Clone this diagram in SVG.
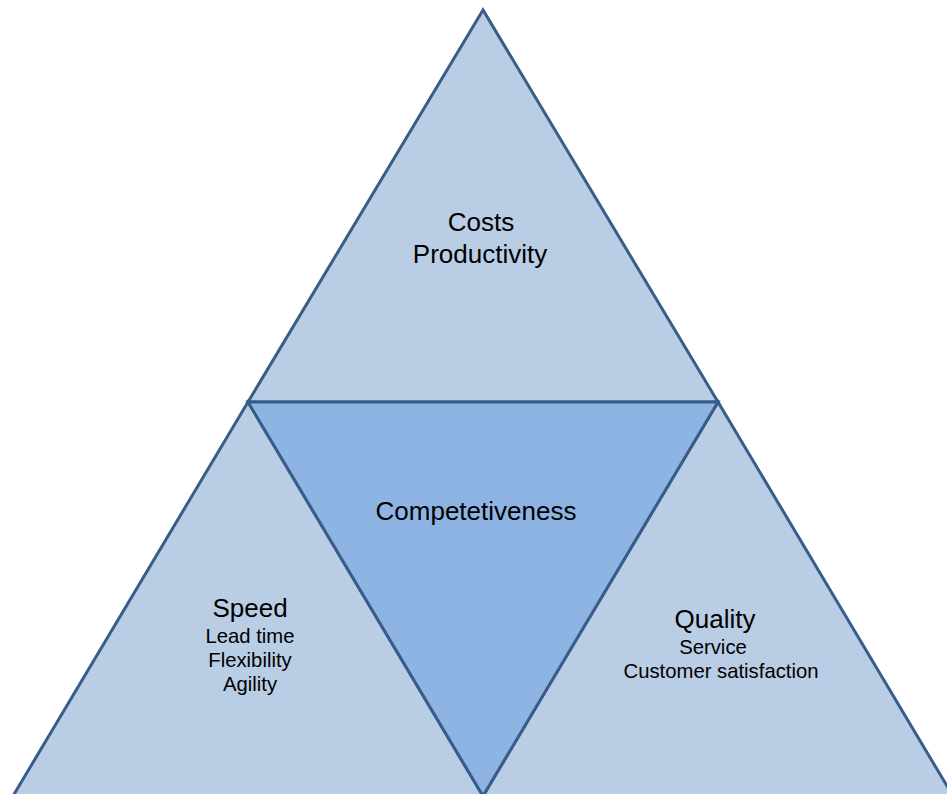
<svg xmlns="http://www.w3.org/2000/svg" width="947" height="794" viewBox="0 0 947 794">
  <style>
    .outer { fill: #b9cde5; stroke: #385d8a; stroke-width: 3; stroke-linejoin: miter; }
    .core { fill: #8eb4e3; stroke: #385d8a; stroke-width: 3; stroke-linejoin: miter; }
    text { font-family: "Liberation Sans", Arial, sans-serif; fill: #000; text-anchor: middle; }
    .big { font-size: 26px; }
    .small { font-size: 20.3px; }
  </style>
  <rect width="947" height="794" fill="#ffffff"/>

  <!-- outer triangle split into three corner regions -->
  <g id="costs">
    <polygon class="outer" points="483,10 248,402 718,402"/>
    <text class="big" x="481" y="231">Costs</text>
    <text class="big" x="480" y="263">Productivity</text>
  </g>
  <g id="speed">
    <polygon class="outer" points="248,402 13,796 483,796"/>
    <text class="big" x="250" y="617">Speed</text>
    <text class="small" x="250" y="643">Lead time</text>
    <text class="small" x="250" y="667">Flexibility</text>
    <text class="small" x="250" y="691">Agility</text>
  </g>
  <g id="quality">
    <polygon class="outer" points="718,402 483,796 953,796"/>
    <text class="big" x="715" y="628">Quality</text>
    <text class="small" x="713" y="654">Service</text>
    <text class="small" x="721" y="678">Customer satisfaction</text>
  </g>
  <g id="competitiveness">
    <polygon class="core" points="248,402 718,402 483,796"/>
    <text class="big" x="476" y="520">Competetiveness</text>
  </g>
  <g id="connectors"/>
</svg>
